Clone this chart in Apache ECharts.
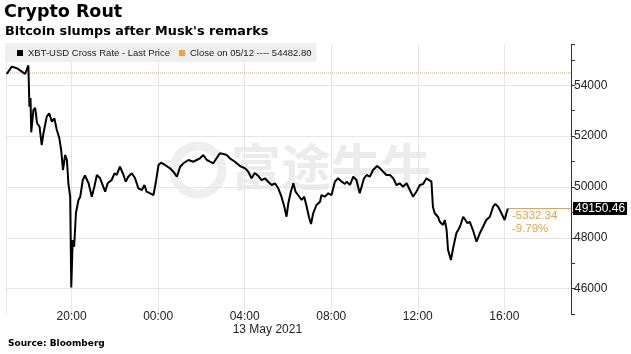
<!DOCTYPE html>
<html><head><meta charset="utf-8">
<script src="https://cdn.jsdelivr.net/npm/echarts@6/dist/echarts.min.js"></script>
<style>html,body{margin:0;padding:0;background:#fff}#c{width:631px;height:354px}</style>
</head><body><div id="c"></div>
<script>
const times = [
'2021-05-12 17:00','2021-05-12 17:14','2021-05-12 17:28','2021-05-12 17:42','2021-05-12 17:51','2021-05-12 18:00',
'2021-05-12 18:03','2021-05-12 18:06','2021-05-12 18:08','2021-05-12 18:14','2021-05-12 18:19','2021-05-12 18:24',
'2021-05-12 18:31','2021-05-12 18:37','2021-05-12 18:42','2021-05-12 18:51','2021-05-12 18:58','2021-05-12 19:05',
'2021-05-12 19:12','2021-05-12 19:19','2021-05-12 19:26','2021-05-12 19:31','2021-05-12 19:36','2021-05-12 19:42',
'2021-05-12 19:47','2021-05-12 19:51','2021-05-12 19:56','2021-05-12 19:59','2021-05-12 20:03','2021-05-12 20:07',
'2021-05-12 20:12','2021-05-12 20:19','2021-05-12 20:24','2021-05-12 20:31','2021-05-12 20:37','2021-05-12 20:47',
'2021-05-12 20:56','2021-05-12 21:03','2021-05-12 21:10','2021-05-12 21:19','2021-05-12 21:33','2021-05-12 21:40',
'2021-05-12 21:51','2021-05-12 21:59','2021-05-12 22:05','2021-05-12 22:14','2021-05-12 22:24','2021-05-12 22:30',
'2021-05-12 22:37','2021-05-12 22:47','2021-05-12 22:56','2021-05-12 23:05','2021-05-12 23:15','2021-05-12 23:22',
'2021-05-12 23:28','2021-05-12 23:38','2021-05-12 23:47','2021-05-12 23:53',
'2021-05-13 00:01','2021-05-13 00:08','2021-05-13 00:19','2021-05-13 00:33','2021-05-13 00:42','2021-05-13 00:52',
'2021-05-13 01:01','2021-05-13 01:10','2021-05-13 01:24','2021-05-13 01:38','2021-05-13 01:47','2021-05-13 01:56',
'2021-05-13 02:05','2021-05-13 02:15','2021-05-13 02:24','2021-05-13 02:33','2021-05-13 02:42','2021-05-13 02:51',
'2021-05-13 03:01','2021-05-13 03:10','2021-05-13 03:19','2021-05-13 03:33','2021-05-13 03:47','2021-05-13 04:01',
'2021-05-13 04:10','2021-05-13 04:19','2021-05-13 04:28','2021-05-13 04:38','2021-05-13 04:47','2021-05-13 04:56',
'2021-05-13 05:05','2021-05-13 05:15','2021-05-13 05:24','2021-05-13 05:33','2021-05-13 05:42','2021-05-13 05:50',
'2021-05-13 05:56','2021-05-13 06:01','2021-05-13 06:08','2021-05-13 06:15','2021-05-13 06:21','2021-05-13 06:28',
'2021-05-13 06:38','2021-05-13 06:45','2021-05-13 06:52','2021-05-13 06:58','2021-05-13 07:04','2021-05-13 07:10',
'2021-05-13 07:19','2021-05-13 07:29','2021-05-13 07:33','2021-05-13 07:42','2021-05-13 07:52','2021-05-13 08:01',
'2021-05-13 08:10','2021-05-13 08:19','2021-05-13 08:29','2021-05-13 08:38','2021-05-13 08:43','2021-05-13 08:52',
'2021-05-13 09:01','2021-05-13 09:10','2021-05-13 09:19','2021-05-13 09:24','2021-05-13 09:31','2021-05-13 09:38',
'2021-05-13 09:47','2021-05-13 09:56','2021-05-13 10:07','2021-05-13 10:15','2021-05-13 10:24','2021-05-13 10:33',
'2021-05-13 10:43','2021-05-13 10:52','2021-05-13 11:01','2021-05-13 11:10','2021-05-13 11:19','2021-05-13 11:29',
'2021-05-13 11:38','2021-05-13 11:47','2021-05-13 11:56','2021-05-13 12:06','2021-05-13 12:15','2021-05-13 12:24',
'2021-05-13 12:29','2021-05-13 12:38','2021-05-13 12:42','2021-05-13 12:47','2021-05-13 12:56','2021-05-13 13:01',
'2021-05-13 13:10','2021-05-13 13:15','2021-05-13 13:20','2021-05-13 13:24','2021-05-13 13:32','2021-05-13 13:38',
'2021-05-13 13:47','2021-05-13 13:57','2021-05-13 14:06','2021-05-13 14:10','2021-05-13 14:18','2021-05-13 14:24',
'2021-05-13 14:33','2021-05-13 14:43','2021-05-13 14:52','2021-05-13 15:01','2021-05-13 15:10','2021-05-13 15:20',
'2021-05-13 15:29','2021-05-13 15:35','2021-05-13 15:43','2021-05-13 15:52','2021-05-13 16:01','2021-05-13 16:06',
'2021-05-13 16:10'
];
const prices = [
54445,54732,54669,54535,54445,54780,
53158,53500,52150,53028,53107,52517,
52371,51651,52124,52765,52898,52568,
52702,52241,51915,51455,50668,51258,
51061,50145,49617,46050,47914,47650,
48976,49488,49617,50274,50450,50145,
49617,50011,50471,50341,49814,50145,
50274,50538,50471,50798,50471,50208,
50404,50538,50341,49948,49881,50078,
49814,49751,49684,50145,
50865,50955,50865,50735,50601,50404,
50798,50932,51061,50994,51061,51128,
51258,51061,50994,50932,51128,51325,
51297,51258,51128,50994,50825,50735,
50601,50341,50550,50430,50274,50341,
50208,50078,50145,49948,49617,49224,
48831,49358,49814,50145,49814,49684,
49488,49617,49224,48831,48544,48965,
49291,49421,49684,49617,49751,49684,
50208,50341,50208,50117,50208,50078,
50404,50274,49751,49684,50341,50471,
50404,50668,50825,50735,50601,50471,
50471,50341,50078,50145,50011,50145,
49881,49617,49814,50078,50117,50341,
50274,50208,49224,48965,48831,48634,
48504,48701,48308,47521,47128,47588,
48178,48437,48831,48780,48571,48634,
48308,47847,48178,48437,48701,48831,
49224,49331,49224,48965,48701,48976,
49150.46
];
const prevClose = 54482.80;
const seriesName = 'XBT-USD Cross Rate - Last Price';
const closeName = 'Close on 05/12 ---- ' + prevClose.toFixed(2);
const xMin = '2021-05-12 16:58';
const xMax = '2021-05-13 19:05';
const dateNote = '13 May 2021';
const dateNoteTick = '2021-05-13 04:00';

const NARROW = "'Liberation Sans Narrow','Liberation Sans',sans-serif";
const BOLD = "'DejaVu Sans',sans-serif";
const ORANGE = '#eba33a';

const lastVal = prices[prices.length - 1];
const lastTime = times[times.length - 1];
const change = lastVal - prevClose;
const pct = change / prevClose * 100;

const chart = echarts.init(document.getElementById('c'), null, {renderer: 'canvas'});
const option = {
  animation: false,
  backgroundColor: '#fff',
  title: [
    {text: 'Crypto Rout', left: 4, top: 3, padding: 0,
     textStyle: {fontFamily: BOLD, fontWeight: 'bold', fontSize: 17.5, color: '#000'}},
    {text: "Bitcoin slumps after Musk's remarks", left: 5, top: 25, padding: 0,
     textStyle: {fontFamily: BOLD, fontWeight: 'bold', fontSize: 12.8, color: '#000'}},
    {text: 'Source: Bloomberg', left: 8, top: 339, padding: 0,
     textStyle: {fontFamily: BOLD, fontWeight: 'bold', fontSize: 9, color: '#000'}}
  ],
  legend: {
    left: 5, top: 43, padding: [5, 5, 4, 12], itemGap: 9,
    backgroundColor: '#efefef', borderRadius: 0,
    itemWidth: 6, itemHeight: 6, icon: 'rect',
    textStyle: {fontFamily: NARROW, fontSize: 9.5, color: '#222'},
    data: [seriesName, closeName],
    selectedMode: false
  },
  grid: {left: 6, right: 60, top: 44.6, bottom: 39.9, containLabel: false, outerBoundsMode: 'none'},
  xAxis: {
    type: 'time', min: xMin, max: xMax,
    minInterval: 4 * 3600 * 1000, maxInterval: 4 * 3600 * 1000,
    axisLine: {show: false}, axisTick: {show: false},
    splitLine: {show: true, lineStyle: {color: '#e6e6e6', width: 1}},
    axisLabel: {
      fontFamily: NARROW, fontSize: 12, color: '#222', margin: -3,
      showMinLabel: false, showMaxLabel: false,
      formatter: function (v) { return echarts.time.format(v, '{HH}:{mm}', false); }
    }
  },
  yAxis: {
    type: 'value', position: 'right', min: 45000, max: 55600, interval: 1000,
    axisLine: {show: true, lineStyle: {color: '#333', width: 1}},
    axisTick: {show: true, length: 4, lineStyle: {color: '#333'}},
    axisLabel: {
      fontFamily: NARROW, fontSize: 12, color: '#222', margin: 3,
      formatter: function (v) { return v % 2000 === 0 ? String(v) : ''; }
    },
    splitLine: {show: true, showMaxLine: false, lineStyle: {color: ['transparent', '#e6e6e6'], width: 1}}
  },
  series: [
    {
      name: seriesName, type: 'line', color: '#000',
      data: times.map((t, i) => [t, prices[i]]),
      showSymbol: false, symbol: 'none', z: 5,
      lineStyle: {color: '#000', width: 2},
      endLabel: {
        show: true, distance: 4, offset: [0, 14],
        fontFamily: NARROW, fontSize: 11.5, color: ORANGE, lineHeight: 13,
        formatter: function () { return change.toFixed(2) + '\n' + pct.toFixed(2) + '%'; }
      },
      markLine: {
        silent: true, symbol: 'none', animation: false,
        lineStyle: {color: ORANGE, type: 'solid', width: 1},
        label: {
          show: true, position: 'end', distance: 2,
          backgroundColor: '#000', color: '#fff', padding: [1, 2, 0, 2],
          fontFamily: NARROW, fontSize: 12,
          formatter: function () { return lastVal.toFixed(2); }
        },
        data: [[{coord: [lastTime, lastVal]}, {coord: [xMax, lastVal]}]]
      }
    },
    {
      name: closeName, type: 'line', color: ORANGE,
      data: [[xMin, prevClose], [xMax, prevClose]],
      showSymbol: false, symbol: 'none', z: 3,
      lineStyle: {color: ORANGE, type: 'dotted', width: 1}
    }
  ]
};
chart.setOption(option);

const noteX = chart.convertToPixel({xAxisIndex: 0}, dateNoteTick);
chart.setOption({
  graphic: [
    {type: 'circle', shape: {cx: 198, cy: 170, r: 24}, z: -1,
     style: {fill: 'none', stroke: '#efefef', lineWidth: 9}},
    {type: 'text', x: 331, y: 167, z: -1,
     style: {text: '富途牛牛', fill: '#ececec', font: "bold 50px 'Noto Sans CJK SC'", align: 'center', verticalAlign: 'middle'}},
    {type: 'text', x: noteX - 12, y: 329.5,
     style: {text: dateNote, fill: '#222', font: "12px " + NARROW, align: 'left', verticalAlign: 'middle'}}
  ]
});
</script>
</body></html>
